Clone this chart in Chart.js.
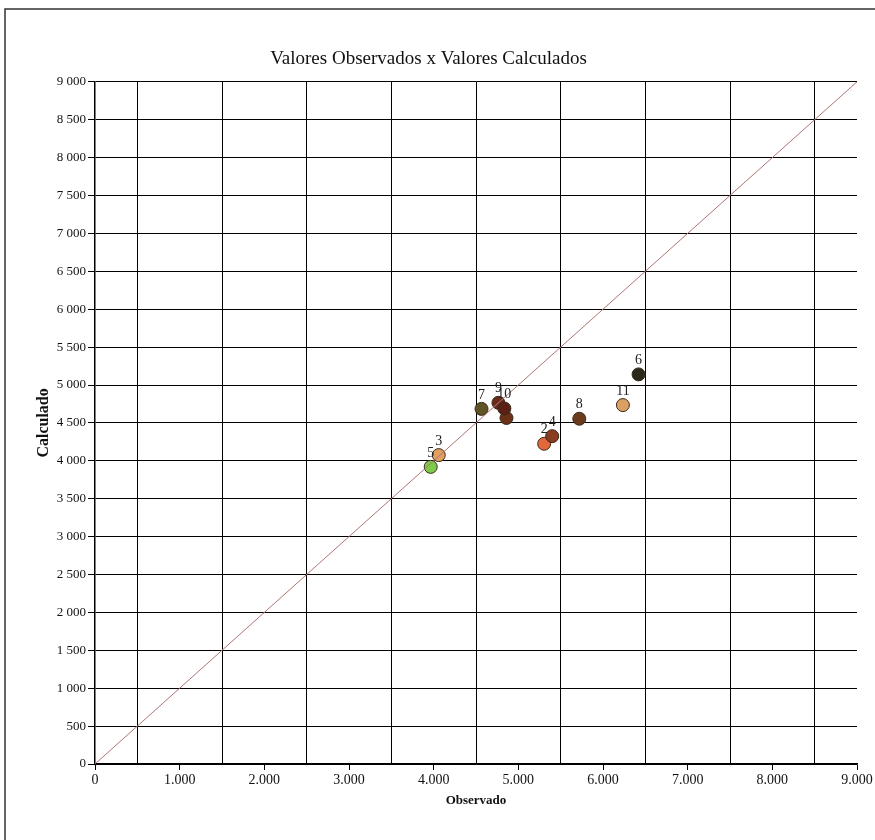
<!DOCTYPE html>
<html>
<head>
<meta charset="utf-8">
<script src="https://cdn.jsdelivr.net/npm/chart.js@4"></script>
<style>
  html, body { margin: 0; padding: 0; background: #fff; }
  #wrap { width: 875px; height: 840px; position: relative; }
</style>
</head>
<body>
<div id="wrap"><canvas id="chart"></canvas></div>
<script>
// Observed vs calculated values, one entry per point
const pointNames = ['5', '3', '2', '4', '7', '1', '9', '10', '8', '11', '6'];
const observed   = [3965, 4060, 5305, 5400, 4565, 4860, 4765, 4835, 5720, 6235, 6420];
const calculated = [3920, 4075, 4225, 4325, 4685, 4565, 4765, 4690, 4555, 4735, 5140];
const pointColors = ['#7ccc4a', '#e0a060', '#e0683a', '#8a3c22', '#5e5426', '#6b3015',
                     '#6a2a1a', '#5a2016', '#6a3a1c', '#dba063', '#2a2a1a'];
const hiddenLabels = ['1'];

// 1:1 reference line
const lineRange = [0, 9000];
const tickStep = 500;

const serif = "'Liberation Serif', 'DejaVu Serif', serif";

function fmtY(v) { return v >= 1000 ? Math.floor(v / 1000) + ' ' + String(v % 1000).padStart(3, '0') : String(v); }
function fmtX(v) { return v >= 1000 ? Math.floor(v / 1000) + '.' + String(v % 1000).padStart(3, '0') : String(v); }

const framePlugin = {
  id: 'frame',
  beforeDraw(chart) {
    const ctx = chart.ctx;
    ctx.save();
    ctx.strokeStyle = '#333';
    ctx.lineWidth = 1.5;
    ctx.beginPath();
    ctx.moveTo(5, 840);
    ctx.lineTo(5, 9);
    ctx.lineTo(875, 9);
    ctx.stroke();
    ctx.restore();
  }
};

const pointLabels = {
  id: 'pointLabels',
  afterDatasetsDraw(chart) {
    const ctx = chart.ctx;
    const xs = chart.scales.x, ys = chart.scales.y;
    ctx.save();
    ctx.font = '14px ' + serif;
    ctx.fillStyle = '#222';
    ctx.textAlign = 'center';
    ctx.textBaseline = 'bottom';
    pointNames.forEach((n, i) => {
      if (hiddenLabels.includes(n)) return;
      ctx.fillText(n, xs.getPixelForValue(observed[i]), ys.getPixelForValue(calculated[i]) - 7);
    });
    ctx.restore();
  }
};

const ctx = document.getElementById('chart').getContext('2d');
new Chart(ctx, {
  type: 'scatter',
  data: {
    datasets: [{
      type: 'line',
      label: 'diagonal',
      data: lineRange.map(v => ({ x: v, y: v })),
      borderColor: '#b07474',
      borderWidth: 1,
      pointRadius: 0,
      fill: false
    }, {
      label: 'pontos',
      data: observed.map((v, i) => ({ x: v, y: calculated[i] })),
      pointBackgroundColor: pointColors,
      pointBorderColor: '#3a2a1a',
      pointBorderWidth: 1,
      pointRadius: 6.5
    }]
  },
  options: {
    responsive: true,
    maintainAspectRatio: false,
    animation: false,
    layout: { padding: { left: 0, right: 18, top: 0, bottom: 0 } },
    plugins: {
      legend: { display: false },
      tooltip: { enabled: false },
      title: {
        display: true,
        text: 'Valores Observados x Valores Calculados',
        color: '#111',
        font: { family: serif, size: 19, weight: 'normal' },
        padding: { top: 48, bottom: 11 }
      }
    },
    scales: {
      x: {
        type: 'linear',
        min: 0,
        max: 9000,
        afterFit: s => { s.height = 76; s.paddingLeft = 0; s.paddingRight = 0; },
        ticks: {
          stepSize: tickStep,
          autoSkip: false,
          maxRotation: 0,
          color: '#111',
          font: { family: serif, size: 14 },
          padding: 2,
          callback: v => (v % 1000 === 0 ? fmtX(v) : '')
        },
        grid: {
          color: c => (c.tick && c.tick.value % 1000 === 500 ? '#000' : 'rgba(0,0,0,0)'),
          tickColor: c => (c.tick && c.tick.value % 1000 === 0 ? '#000' : 'rgba(0,0,0,0)'),
          tickLength: 6,
          lineWidth: 1
        },
        border: { color: '#000', width: 1.5 },
        title: {
          display: true,
          text: 'Observado',
          color: '#111',
          font: { family: serif, size: 13, weight: 'bold' },
          padding: { top: 0, bottom: 32 }
        }
      },
      y: {
        type: 'linear',
        min: 0,
        max: 9000,
        afterFit: s => { s.width = 95; s.paddingTop = 0; s.paddingBottom = 0; },
        ticks: {
          stepSize: tickStep,
          autoSkip: false,
          color: '#111',
          font: { family: serif, size: 13 },
          padding: 2,
          callback: v => fmtY(v)
        },
        grid: {
          color: '#000',
          lineWidth: 1,
          tickLength: 7
        },
        border: { color: '#000', width: 1.5 },
        title: {
          display: true,
          text: 'Calculado',
          color: '#111',
          font: { family: serif, size: 16, weight: 'bold' },
          padding: { top: 34, bottom: 0 }
        }
      }
    }
  },
  plugins: [framePlugin, pointLabels]
});
</script>
</body>
</html>
